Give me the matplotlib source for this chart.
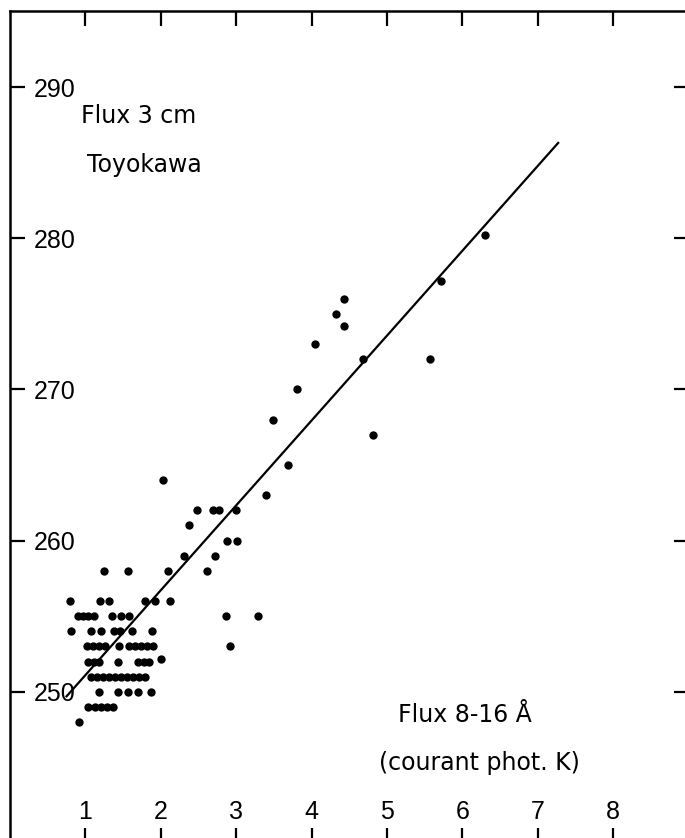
import numpy as np
import matplotlib
matplotlib.use('Agg')
import matplotlib.pyplot as plt

# X-ray flux 8-16 A (courant phot. K) vs 3 cm radio flux (Toyokawa)
xray = [2.03,
        3.40,
        2.48, 2.69, 2.77, 3.00,
        2.37,
        2.88, 3.01,
        2.31, 2.72,
        1.25, 1.56, 2.10, 2.61,
        0.80, 1.19, 1.31, 1.79, 1.92, 2.12,
        0.90, 0.97, 1.03, 1.11, 1.35, 1.47, 1.58, 2.87, 3.29,
        0.81, 1.07, 1.21, 1.38, 1.46, 1.62, 1.88,
        1.02, 1.10, 1.18, 1.26, 1.45, 1.58, 1.66, 1.74, 1.82, 1.90, 2.92,
        1.04, 1.11, 1.18, 1.43, 1.70, 1.78, 1.84, 2.00,
        1.07, 1.15, 1.23, 1.31, 1.39, 1.47, 1.55, 1.63, 1.71, 1.79,
        1.18, 1.43, 1.56, 1.70, 1.87,
        1.03, 1.13, 1.21, 1.29, 1.37,
        0.92,
        3.69, 4.81, 3.49, 3.81, 4.68, 5.57, 4.04, 4.43, 4.33, 4.43, 5.72, 6.30]
radio = [264,
         263,
         262, 262, 262, 262,
         261,
         260, 260,
         259, 259,
         258, 258, 258, 258,
         256, 256, 256, 256, 256, 256,
         255, 255, 255, 255, 255, 255, 255, 255, 255,
         254, 254, 254, 254, 254, 254, 254,
         253, 253, 253, 253, 253, 253, 253, 253, 253, 253, 253,
         252, 252, 252, 252, 252, 252, 252, 252.2,
         251, 251, 251, 251, 251, 251, 251, 251, 251, 251,
         250, 250, 250, 250, 250,
         249, 249, 249, 249, 249,
         248,
         265, 267, 268, 270, 272, 272, 273, 274.2, 275, 276, 277.2, 280.2]

# regression line end points
fit_x = [0.75, 7.27]
fit_y = [249.7, 286.3]

xticks = [1, 2, 3, 4, 5, 6, 7, 8]
yticks = [250, 260, 270, 280, 290]

fig = plt.figure(figsize=(6.85, 8.38), dpi=100)
ax = fig.add_axes([10/685, -5/838, 678.6/685, 831.6/838])
ax.set_xlim(0, 9)
ax.set_ylim(240, 295)

ax.plot(xray, radio, 'o', color='black', ms=6, mew=0)
ax.plot(fit_x, fit_y, color='black', lw=1.6)

for s in ax.spines.values():
    s.set_linewidth(1.8)

ax.set_xticks(xticks)
ax.set_xticklabels([str(t) for t in xticks])
ax.set_yticks(yticks)
ax.set_yticklabels([str(t) for t in yticks])
ax.tick_params(direction='in', length=11, width=1.6, top=True, right=True,
               labeltop=False, labelright=False, labelsize=18)
ax.tick_params(axis='x', pad=-31)
ax.tick_params(axis='y', pad=-17)
for lab in ax.get_xticklabels() + ax.get_yticklabels():
    lab.set_fontfamily('Liberation Sans')
for lab in ax.get_yticklabels():
    lab.set_ha('left')

txt = dict(fontsize=17, family='DejaVu Sans', ha='center', va='baseline')
ax.text(1.71, 287.6, 'Flux 3 cm', **txt)
ax.text(1.78, 284.4, 'Toyokawa', **txt)
ax.text(6.03, 248.0, 'Flux 8-16 Å', **txt)
ax.text(6.23, 244.8, '(courant phot. K)', **txt)

fig.savefig('out.png', dpi=100)
